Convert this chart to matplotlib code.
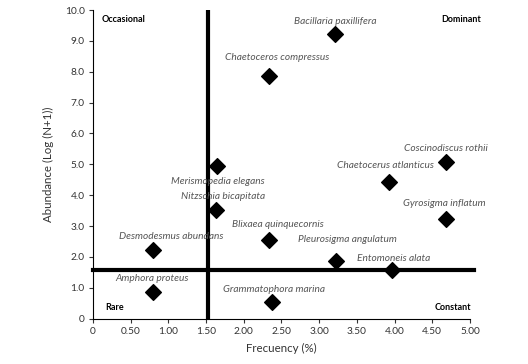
import matplotlib
matplotlib.use('Agg')
import matplotlib.pyplot as plt

# Species data
species = ['Bacillaria paxillifera', 'Chaetoceros compressus', 'Merismopedia elegans',
           'Coscinodiscus rothii', 'Chaetocerus atlanticus', 'Nitzschia bicapitata',
           'Gyrosigma inflatum', 'Blixaea quinquecornis', 'Desmodesmus abundans',
           'Pleurosigma angulatum', 'Entomoneis alata', 'Amphora proteus',
           'Grammatophora marina']
frequency = [3.21, 2.34, 1.64, 4.68, 3.93, 1.63, 4.68, 2.34, 0.80, 3.22, 3.96, 0.80, 2.38]
abundance = [9.22, 7.86, 4.96, 5.09, 4.43, 3.53, 3.24, 2.54, 2.23, 1.88, 1.57, 0.86, 0.54]

freq_cut = 1.53
abund_cut = 1.57

x_ticks = [0, 0.5, 1.0, 1.5, 2.0, 2.5, 3.0, 3.5, 4.0, 4.5, 5.0]
x_tick_labels = ['0', '0.50', '1.00', '1.50', '2.00', '2.50', '3.00', '3.50', '4.00', '4.50', '5.00']
y_ticks = list(range(0, 11))
y_tick_labels = ['0'] + [f'{v:.1f}' for v in range(1, 11)]

# label anchor points (data coords), centered text
label_pos = [(3.22, 9.63), (2.44, 8.45), (1.65, 4.45), (4.68, 5.52), (3.88, 4.96),
             (1.73, 3.95), (4.66, 3.72), (2.45, 3.05), (1.04, 2.65), (3.37, 2.58),
             (3.99, 1.96), (0.78, 1.3), (2.40, 0.94)]

plt.rcParams['font.family'] = ['Lato', 'DejaVu Sans']

fig = plt.figure(figsize=(5.28, 3.64), dpi=100)
ax = fig.add_axes([0.176, 0.1245, 0.714, 0.848])

ax.axvline(freq_cut, ymin=0, ymax=1, color='black', linewidth=3, zorder=2)
ax.plot([0, 5.06], [abund_cut, abund_cut], color='black', linewidth=3, clip_on=False, zorder=2)

ax.scatter(frequency, abundance, marker='D', s=64, color='black', zorder=3, clip_on=False)

for name, (lx, ly) in zip(species, label_pos):
    ax.text(lx, ly, name, ha='center', va='center', fontsize=7.3, style='italic', color='#555555')

ax.text(0.12, 9.7, 'Occasional', fontsize=6.5, weight='bold', ha='left', va='center')
ax.text(5.15, 9.7, 'Dominant', fontsize=6.5, weight='bold', ha='right', va='center')
ax.text(0.16, 0.35, 'Rare', fontsize=6.5, weight='bold', ha='left', va='center')
ax.text(5.02, 0.35, 'Constant', fontsize=6.5, weight='bold', ha='right', va='center')

ax.set_xlim(0, 5)
ax.set_ylim(0, 10)
ax.set_xticks(x_ticks)
ax.set_xticklabels(x_tick_labels)
ax.set_yticks(y_ticks)
ax.set_yticklabels(y_tick_labels)
ax.tick_params(labelsize=7.3, length=3, width=0.8, color='#333333', labelcolor='#333333', pad=3)
ax.spines['top'].set_visible(False)
ax.spines['right'].set_visible(False)
ax.spines['left'].set_linewidth(0.8)
ax.spines['bottom'].set_linewidth(0.8)

ax.set_xlabel('Frecuency (%)', fontsize=8.3, color='#333333', labelpad=5)
ax.set_ylabel('Abundance (Log (N+1))', fontsize=8.3, color='#333333', labelpad=8)

plt.savefig('out.png', dpi=100)
plt.close()
